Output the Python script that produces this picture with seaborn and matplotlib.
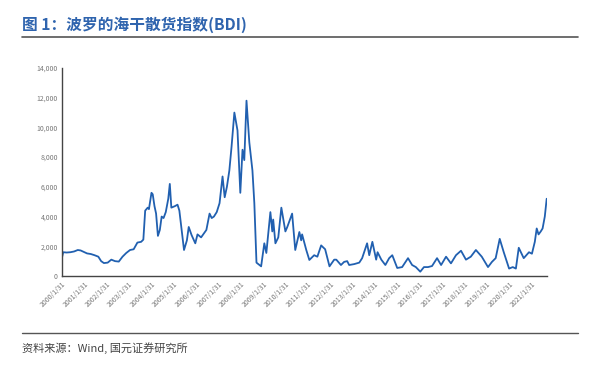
import matplotlib
matplotlib.use("Agg")
import matplotlib.pyplot as plt
import seaborn as sns
import pandas as pd

dates = [
    "2000-01-31", "2000-02-20", "2000-04-15", "2000-06-15", "2000-08-15", "2000-10-15", "2000-11-30",
    "2001-01-31", "2001-03-15", "2001-05-15", "2001-07-15", "2001-09-15", "2001-10-31", "2001-12-15",
    "2002-02-15", "2002-04-15", "2002-06-15", "2002-08-15", "2002-10-15", "2002-12-15",
    "2003-02-15", "2003-04-15", "2003-06-15", "2003-08-15", "2003-09-20", "2003-10-20", "2003-11-30", "2003-12-20",
    "2004-01-31", "2004-02-20", "2004-03-20", "2004-04-15", "2004-05-15", "2004-06-15", "2004-07-15",
    "2004-08-15", "2004-09-20", "2004-10-31", "2004-11-25", "2004-12-20",
    "2005-02-15", "2005-03-31", "2005-04-30", "2005-05-31", "2005-07-15", "2005-08-31", "2005-09-30", "2005-11-15",
    "2006-01-15", "2006-02-20", "2006-04-20", "2006-07-15", "2006-09-05", "2006-10-10", "2006-11-15", "2006-12-31",
    "2007-02-15", "2007-04-05", "2007-05-10", "2007-06-15", "2007-07-25", "2007-08-30", "2007-10-15", "2007-11-05", "2007-12-05",
    "2008-01-20", "2008-02-25", "2008-03-25", "2008-04-30", "2008-06-15", "2008-08-05", "2008-09-05",
    "2008-10-10", "2008-12-25",
    "2009-02-15", "2009-03-20", "2009-05-25", "2009-06-25", "2009-07-10", "2009-08-15", "2009-10-01", "2009-11-20",
    "2010-01-25", "2010-02-25", "2010-05-15", "2010-07-05", "2010-09-10", "2010-10-10", "2010-10-25",
    "2011-01-01", "2011-02-20", "2011-05-10", "2011-07-01", "2011-09-01", "2011-11-05",
    "2012-01-15", "2012-04-01", "2012-05-05", "2012-07-20", "2012-09-10", "2012-10-30", "2012-12-01",
    "2013-02-20", "2013-05-15", "2013-07-01", "2013-09-20", "2013-10-25", "2013-12-15",
    "2014-02-15", "2014-03-10", "2014-05-10", "2014-07-15", "2014-09-15", "2014-11-05",
    "2015-01-25", "2015-04-15", "2015-07-20", "2015-09-25", "2015-11-25",
    "2016-02-05", "2016-04-05", "2016-06-10", "2016-08-15", "2016-11-05",
    "2017-01-10", "2017-04-01", "2017-06-20", "2017-09-10", "2017-12-01",
    "2018-02-20", "2018-05-10", "2018-08-01", "2018-11-05",
    "2019-02-15", "2019-04-20", "2019-06-20", "2019-08-25", "2019-10-30",
    "2020-01-25", "2020-03-25", "2020-05-15", "2020-07-01", "2020-09-20", "2020-12-15",
    "2021-02-01", "2021-03-20", "2021-04-20", "2021-05-20", "2021-06-25", "2021-07-25", "2021-08-30", "2021-09-30",
]
bdi = [
    1250, 1600, 1580, 1600, 1650, 1750, 1720,
    1600, 1520, 1480, 1400, 1300, 1000, 870,
    900, 1100, 1000, 970, 1300, 1550,
    1750, 1800, 2250, 2300, 2450, 4400, 4600, 4500,
    5600, 5500, 4700, 4200, 2700, 3100, 4000,
    3900, 4300, 5200, 6200, 4600,
    4700, 4800, 4400, 3300, 1750, 2400, 3300, 2760,
    2200, 2800, 2600, 3100, 4200, 3900, 4000, 4300,
    4900, 6700, 5300, 6000, 7100, 8700, 11000, 10500, 9800,
    5600, 8500, 7800, 11800, 9000, 7100, 4900,
    900, 650,
    2200, 1550, 4300, 3000, 3800, 2200, 2600, 4600,
    3000, 3300, 4200, 1750, 2960, 2400, 2800,
    1750, 1080, 1400, 1300, 2060, 1800,
    650, 1100, 1100, 740, 950, 1000, 740,
    800, 900, 1200, 2200, 1400, 2300,
    1100, 1600, 1100, 740, 1200, 1400,
    540, 600, 1200, 740, 600,
    290, 600, 600, 670, 1200,
    740, 1300, 850, 1400, 1700,
    1100, 1300, 1750, 1300,
    600, 950, 1200, 2500, 1600,
    500, 600, 500, 1900, 1200, 1600,
    1500, 2300, 3200, 2800, 3000, 3200, 4000, 5200,
]
tick_years = list(range(2000, 2022))
tick_labels = [f"{y}/1/31" for y in tick_years]
y_ticks = [0, 2000, 4000, 6000, 8000, 10000, 12000, 14000]
y_labels = ["0", "2,000", "4,000", "6,000", "8,000", "10,000", "12,000", "14,000"]

title = "图 1：波罗的海干散货指数(BDI)"
source = "资料来源：Wind, 国元证券研究所"

sns.set_style("white")
plt.rcParams["font.family"] = ["Noto Sans CJK SC", "DejaVu Sans"]

df = pd.DataFrame({"date": pd.to_datetime(dates), "BDI": bdi})

W, H = 591, 366
fig = plt.figure(figsize=(W / 100, H / 100), dpi=100)
ax = fig.add_axes([62 / W, 1 - 276 / H, (547 - 62) / W, (276 - 68) / H])

sns.lineplot(data=df, x="date", y="BDI", ax=ax, color="#2160B0", linewidth=1.3)

ax.set_xlim(pd.Timestamp("2000-01-31"), pd.Timestamp("2021-10-05"))
ax.set_ylim(0, 14000)
ax.set_xticks(pd.to_datetime([f"{y}-01-31" for y in tick_years]))
ax.set_xticklabels(tick_labels, rotation=45, ha="right", rotation_mode="anchor",
                   fontsize=5, color="#777777")
ax.set_yticks(y_ticks)
ax.set_yticklabels(y_labels, fontsize=5, color="#777777")
ax.set_xlabel("")
ax.set_ylabel("")
ax.tick_params(axis="both", direction="in", length=2, width=0.8, color="#444444", pad=3)
for s in ["top", "right"]:
    ax.spines[s].set_visible(False)
for s in ["left", "bottom"]:
    ax.spines[s].set_color("#444444")
    ax.spines[s].set_linewidth(1.0)

fig.text(22 / W, 1 - 25 / H, title, fontsize=11.3, fontweight="bold", color="#2F64AE",
         ha="left", va="center")
fig.add_artist(plt.Line2D([22 / W, 578 / W], [1 - 37 / H, 1 - 37 / H], color="#555555", lw=1.2))
fig.add_artist(plt.Line2D([22 / W, 578 / W], [1 - 333 / H, 1 - 333 / H], color="#555555", lw=1.0))
fig.text(22 / W, 1 - 348 / H, source, fontsize=8, color="#444444", ha="left", va="center")

fig.savefig("out.png", dpi=100)
